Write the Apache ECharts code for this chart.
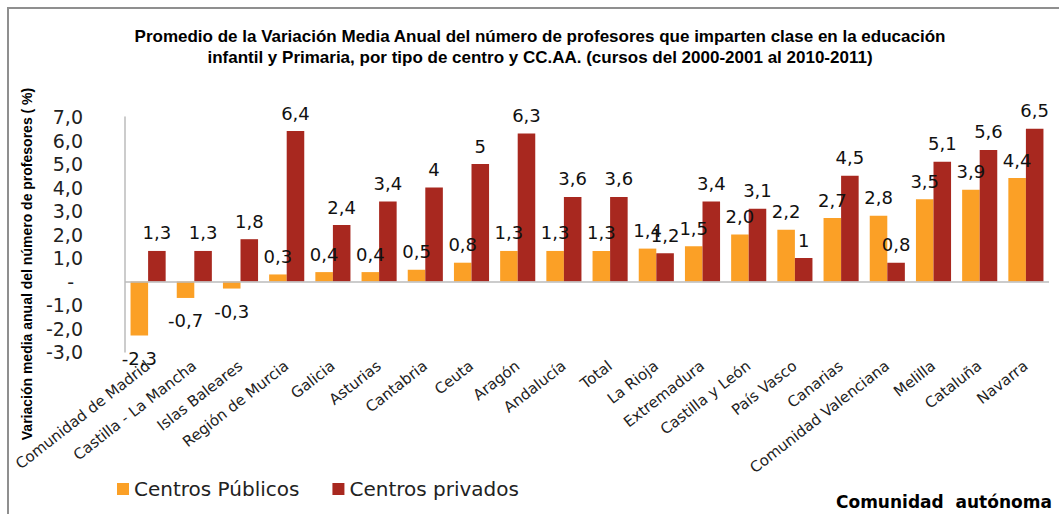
<!DOCTYPE html>
<html>
<head>
<meta charset="utf-8">
<script src="https://cdn.jsdelivr.net/npm/echarts@6/dist/echarts.min.js"></script>
<style>
  html, body { margin: 0; padding: 0; background: #fff; }
  #chart { width: 1059px; height: 514px; }
</style>
</head>
<body>
<div id="chart"></div>
<script>
const categories = [
  'Comunidad de Madrid', 'Castilla - La Mancha', 'Islas Baleares', 'Región de Murcia',
  'Galicia', 'Asturias', 'Cantabria', 'Ceuta', 'Aragón', 'Andalucía', 'Total',
  'La Rioja', 'Extremadura', 'Castilla y León', 'País Vasco', 'Canarias',
  'Comunidad Valenciana', 'Melilla', 'Cataluña', 'Navarra'
];
const publicos = [-2.3, -0.7, -0.3, 0.3, 0.4, 0.4, 0.5, 0.8, 1.3, 1.3, 1.3, 1.4, 1.5, 2.0, 2.2, 2.7, 2.8, 3.5, 3.9, 4.4];
const privados = [1.3, 1.3, 1.8, 6.4, 2.4, 3.4, 4, 5, 6.3, 3.6, 3.6, 1.2, 3.4, 3.1, 1, 4.5, 0.8, 5.1, 5.6, 6.5];
const seriesNames = ['Centros Públicos', 'Centros privados'];
const yMin = -3, yMax = 7, yInterval = 1;
const titleText = 'Promedio de la Variación Media Anual del número de profesores que imparten clase en la educación\ninfantil y Primaria, por tipo de centro y CC.AA. (cursos del 2000-2001 al 2010-2011)';
const yTitle = 'Variación media anual del número de profesores ( %)';
const xTitle = 'Comunidad  autónoma';

const FONT = 'DejaVu Sans';
const chart = echarts.init(document.getElementById('chart'), null, { renderer: 'svg' });

function labelData(values) {
  return values.map(v => ({
    value: v,
    label: {
      position: v < 0 ? 'bottom' : 'top',
      distance: v < 0 ? 14 : 9
    }
  }));
}

const labelStyle = {
  show: true,
  fontFamily: FONT,
  fontSize: 18,
  color: '#111'
};

chart.setOption({
  backgroundColor: '#fff',
  animation: false,
  grid: { left: 125, right: 10, top: 117, bottom: 162, containLabel: false },
  legend: {
    data: seriesNames,
    left: 112,
    top: 474,
    icon: 'rect',
    itemWidth: 12,
    itemHeight: 12,
    itemGap: 33,
    textStyle: { fontFamily: FONT, fontSize: 20, color: '#222' }
  },
  xAxis: {
    type: 'category',
    data: categories,
    axisLine: { show: false, onZero: false },
    axisTick: { show: false },
    axisLabel: {
      interval: 0,
      rotate: 38,
      margin: 12,
      fontFamily: FONT,
      fontSize: 15,
      color: '#222'
    }
  },
  yAxis: {
    type: 'value',
    min: yMin,
    max: yMax,
    interval: yInterval,
    axisLine: { show: true, lineStyle: { color: '#BBBBBB', width: 1.5 } },
    axisTick: { show: false },
    splitLine: { show: false },
    axisLabel: {
      margin: 42,
      fontFamily: FONT,
      fontSize: 19,
      color: '#222',
      formatter: v => v === 0 ? '{z|-}' : v.toFixed(1).replace('.', ','),
      rich: { z: { fontFamily: FONT, fontSize: 19, color: '#222', padding: [0, 9, 0, 0] } }
    }
  },
  series: [
    {
      name: seriesNames[0],
      type: 'bar',
      data: labelData(publicos),
      barGap: '0%',
      barCategoryGap: '24%',
      itemStyle: { color: '#FBA026' },
      label: Object.assign({}, labelStyle, {
        formatter: p => p.value.toFixed(1).replace('.', ',')
      }),
      markLine: {
        silent: true,
        symbol: 'none',
        label: { show: false },
        lineStyle: { color: '#BBBBBB', type: 'solid', width: 1.5 },
        data: [{ yAxis: 0 }]
      }
    },
    {
      name: seriesNames[1],
      type: 'bar',
      data: labelData(privados),
      barGap: '0%',
      barCategoryGap: '24%',
      itemStyle: { color: '#A8281F' },
      label: Object.assign({}, labelStyle, {
        formatter: p => String(p.value).replace('.', ',')
      })
    }
  ],
  graphic: [
    {
      type: 'rect',
      silent: true,
      shape: { x: 8, y: 8, width: 1100, height: 560 },
      style: { fill: 'none', stroke: '#8F8F8F', lineWidth: 2 },
      z: 100
    },
    {
      type: 'text',
      x: 540,
      y: 26,
      style: {
        text: titleText,
        align: 'center',
        verticalAlign: 'top',
        fontFamily: 'Liberation Sans',
        fontWeight: 'bold',
        fontSize: 17,
        lineHeight: 21,
        fill: '#000'
      }
    },
    {
      type: 'text',
      x: 27,
      y: 264,
      rotation: Math.PI / 2,
      style: {
        text: yTitle,
        align: 'center',
        verticalAlign: 'middle',
        fontFamily: 'Liberation Sans',
        fontWeight: 'bold',
        fontSize: 14,
        fill: '#000'
      }
    },
    {
      type: 'text',
      x: 836,
      y: 502,
      style: {
        text: xTitle,
        align: 'left',
        verticalAlign: 'middle',
        fontFamily: FONT,
        fontWeight: 'bold',
        fontSize: 17,
        fill: '#000'
      }
    }
  ]
});
</script>
</body>
</html>
